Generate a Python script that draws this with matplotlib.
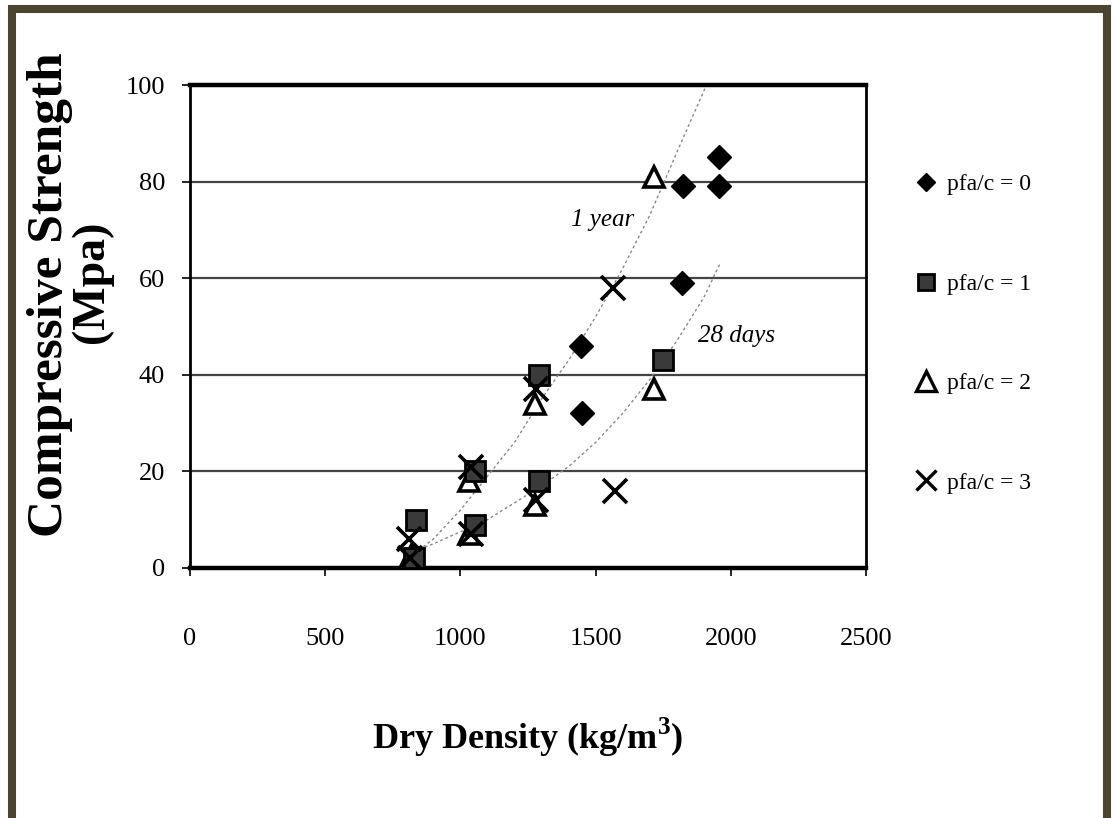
import matplotlib
matplotlib.use("Agg")
import matplotlib.pyplot as plt
from matplotlib.patches import Rectangle
from matplotlib.lines import Line2D

# ---- data ----
pfa0_x = [1445, 1448, 1825, 1820, 1955, 1955]
pfa0_y = [46, 32, 79, 59, 85, 79]

pfa1_x = [835, 830, 1055, 1055, 1290, 1290, 1750]
pfa1_y = [10, 2, 20, 9, 40, 18, 43]

pfa2_x = [820, 1030, 1030, 1275, 1275, 1715, 1715]
pfa2_y = [3, 18, 7, 34, 13, 81, 37]

pfa3_x = [810, 815, 1040, 1040, 1280, 1280, 1565, 1570]
pfa3_y = [6, 2, 21, 7, 37, 14, 58, 16]

year1_x = [830, 900, 1000, 1100, 1200, 1300, 1400, 1500, 1600, 1700, 1800, 1910]
year1_y = [3, 6, 12, 19, 26, 35, 43, 52, 62, 73, 86, 100]

days28_x = [830, 900, 1000, 1100, 1200, 1300, 1400, 1500, 1600, 1700, 1800, 1900, 1960]
days28_y = [3.5, 5, 7.5, 10, 13.5, 17, 21, 26, 32, 39, 47, 56, 63]

x_ticks = [0, 500, 1000, 1500, 2000, 2500]
y_ticks = [0, 20, 40, 60, 80, 100]
legend_labels = ["pfa/c = 0", "pfa/c = 1", "pfa/c = 2", "pfa/c = 3"]

SERIF = ["Liberation Serif", "DejaVu Serif"]

W, H = 1116, 818
fig = plt.figure(figsize=(W / 100, H / 100), dpi=100)
fig.patch.set_facecolor("white")

ax = fig.add_axes([190 / W, 1 - 568 / H, (866 - 190) / W, (568 - 85) / H])
ax.set_xlim(0, 2500)
ax.set_ylim(0, 100)

# grid lines
for yv in y_ticks[1:-1]:
    ax.axhline(yv, color="#444444", lw=1.6, zorder=1)

# spines
for s in ["left", "right"]:
    ax.spines[s].set_linewidth(2.0)
for s in ["top", "bottom"]:
    ax.spines[s].set_linewidth(3.2)

# trend curves
ax.plot(year1_x, year1_y, color="#888888", lw=1.0, ls=(0, (2, 2)), zorder=2)
ax.plot(days28_x, days28_y, color="#888888", lw=1.0, ls=(0, (2, 2)), zorder=2)

# series
ax.plot(pfa2_x, pfa2_y, ls="none", marker="^", ms=15, mfc="white", mec="black", mew=2.6, zorder=3)
ax.plot(pfa1_x, pfa1_y, ls="none", marker="s", ms=14, mfc="#3a3a3a", mec="black", mew=2.0, zorder=4)
ax.plot(pfa3_x, pfa3_y, ls="none", marker="x", ms=17, mec="black", mew=2.6, zorder=5)
ax.plot(pfa0_x, pfa0_y, ls="none", marker="D", ms=12, mfc="black", mec="black", zorder=6)

ax.text(1525, 72, "1 year", family=SERIF, style="italic", fontsize=18, ha="center", va="center")
ax.text(2020, 48, "28 days", family=SERIF, style="italic", fontsize=18, ha="center", va="center")

ax.set_xticks(x_ticks)
ax.set_yticks(y_ticks)
ax.set_xticklabels([str(v) for v in x_ticks], family=SERIF, fontsize=19)
ax.set_yticklabels([str(v) for v in y_ticks], family=SERIF, fontsize=19)
ax.tick_params(axis="x", direction="out", length=6, width=1.2, pad=37)
ax.tick_params(axis="y", direction="out", length=6, width=1.2, pad=12)

# axis labels
fig.text(528 / W, 1 - 737 / H, "Dry Density (kg/m$^\\mathregular{3}$)", family=SERIF,
         fontweight="bold", fontsize=26, ha="center", va="center")
fig.text(50 / W, 1 - 295 / H, "Compressive Strength", family=SERIF, fontweight="bold",
         fontsize=37, rotation=90, ha="center", va="center")
fig.text(92 / W, 1 - 282 / H, "(Mpa)", family=SERIF, fontweight="bold",
         fontsize=33, rotation=90, ha="center", va="center")

# legend
handles = [
    Line2D([], [], ls="none", marker="D", ms=9, mfc="black", mec="black"),
    Line2D([], [], ls="none", marker="s", ms=12, mfc="#3a3a3a", mec="black", mew=2),
    Line2D([], [], ls="none", marker="^", ms=14, mfc="white", mec="black", mew=2.4),
    Line2D([], [], ls="none", marker="x", ms=15, mec="black", mew=2.4),
]
fig.legend(handles, legend_labels, loc="upper left", bbox_to_anchor=(902 / W, 1 - 162 / H),
           bbox_transform=fig.transFigure, frameon=False, prop={"family": SERIF, "size": 17},
           labelspacing=3.3, handlelength=1.0, handletextpad=0.4, borderpad=0)

# outer frame
fig.patches.append(Rectangle((12 / W, 1 - 820 / H), (1107 - 12) / W, (820 - 9) / H,
                             transform=fig.transFigure, fill=False, edgecolor="#4b4431",
                             linewidth=5.8, zorder=10))

fig.savefig("out.png", dpi=100, facecolor="white")
